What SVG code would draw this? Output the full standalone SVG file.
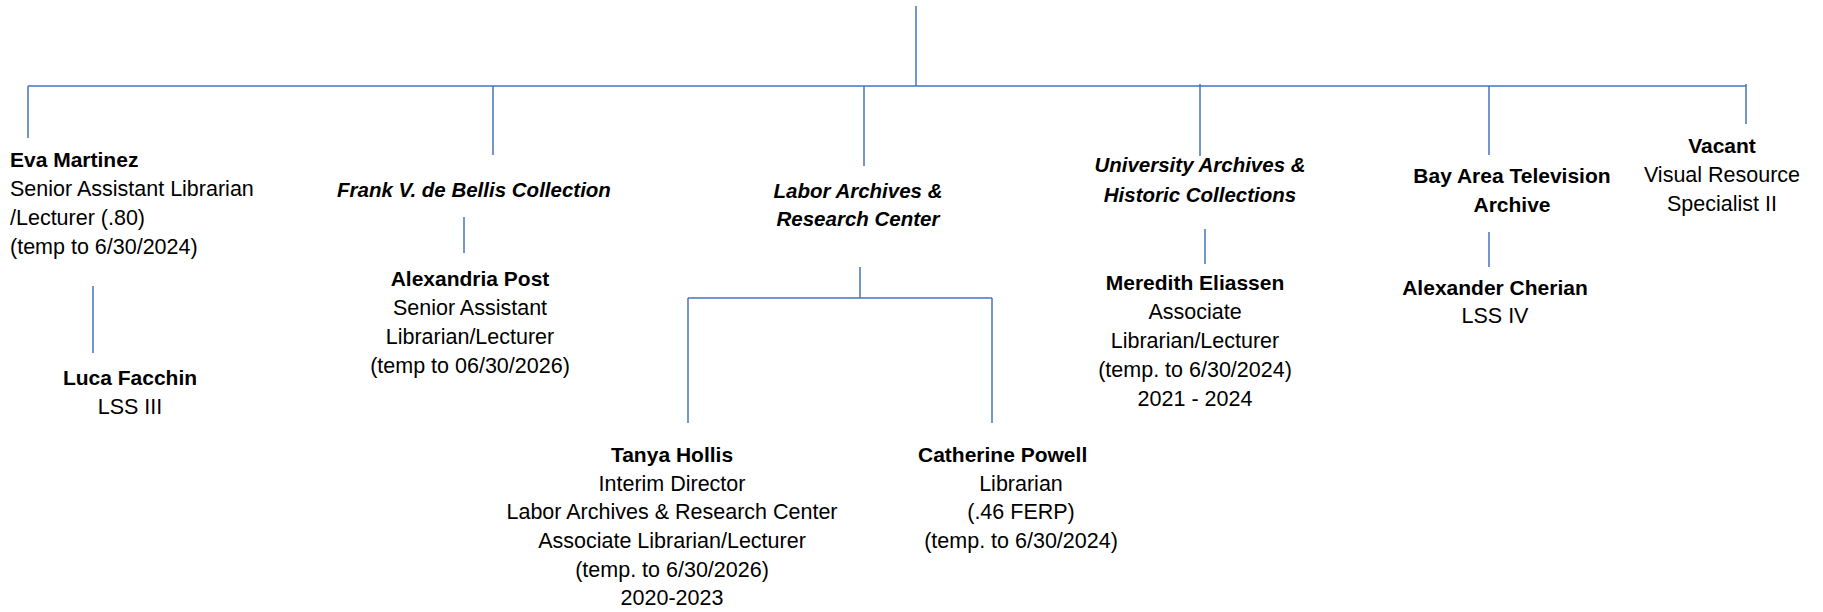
<svg xmlns="http://www.w3.org/2000/svg" width="1823" height="612" viewBox="0 0 1823 612">
<style>
.ln{stroke:#4472C4;stroke-width:1.5;fill:none}
text{font-family:"Liberation Sans",Arial,sans-serif;font-size:21.5px;fill:#000}
.b{font-weight:bold;font-size:21px}
.bi{font-weight:bold;font-style:italic;font-size:20.5px}
.c{text-anchor:middle}
</style>
<rect width="1823" height="612" fill="#fff"/>
<g id="connectors">
<line class="ln" x1="916" y1="6" x2="916" y2="86"/>
<line class="ln" x1="28" y1="86" x2="1746" y2="86"/>
<line class="ln" x1="28" y1="86" x2="28" y2="138"/>
<line class="ln" x1="493" y1="86" x2="493" y2="155"/>
<line class="ln" x1="864" y1="86" x2="864" y2="166"/>
<line class="ln" x1="1200" y1="84" x2="1200" y2="156"/>
<line class="ln" x1="1489" y1="86" x2="1489" y2="155"/>
<line class="ln" x1="1746" y1="84" x2="1746" y2="124"/>
<line class="ln" x1="93" y1="286" x2="93" y2="353"/>
<line class="ln" x1="464" y1="217" x2="464" y2="253"/>
<line class="ln" x1="860" y1="267" x2="860" y2="298"/>
<line class="ln" x1="688" y1="298" x2="992" y2="298"/>
<line class="ln" x1="688" y1="298" x2="688" y2="423"/>
<line class="ln" x1="992" y1="298" x2="992" y2="423"/>
<line class="ln" x1="1205" y1="229" x2="1205" y2="264"/>
<line class="ln" x1="1489" y1="232" x2="1489" y2="267"/>
</g>
<g id="eva">
<text class="b" x="10" y="167">Eva Martinez</text>
<text x="10" y="196">Senior Assistant Librarian</text>
<text x="10" y="225">/Lecturer (.80)</text>
<text x="10" y="254">(temp to 6/30/2024)</text>
</g>
<g id="luca">
<text class="b c" x="130" y="385">Luca Facchin</text>
<text class="c" x="130" y="414">LSS III</text>
</g>
<g id="frank">
<text class="bi c" x="474" y="197">Frank V. de Bellis Collection</text>
</g>
<g id="alexandria">
<text class="b c" x="470" y="286">Alexandria Post</text>
<text class="c" x="470" y="315">Senior Assistant</text>
<text class="c" x="470" y="344">Librarian/Lecturer</text>
<text class="c" x="470" y="373">(temp to 06/30/2026)</text>
</g>
<g id="labor">
<text class="bi c" x="858" y="198">Labor Archives &amp;</text>
<text class="bi c" x="858" y="226">Research Center</text>
</g>
<g id="tanya">
<text class="b c" x="672" y="462">Tanya Hollis</text>
<text class="c" x="672" y="491">Interim Director</text>
<text class="c" x="672" y="519">Labor Archives &amp; Research Center</text>
<text class="c" x="672" y="548">Associate Librarian/Lecturer</text>
<text class="c" x="672" y="577">(temp. to 6/30/2026)</text>
<text class="c" x="672" y="605">2020-2023</text>
</g>
<g id="catherine">
<text class="b" x="918" y="462">Catherine Powell</text>
<text class="c" x="1021" y="491">Librarian</text>
<text class="c" x="1021" y="519">(.46 FERP)</text>
<text class="c" x="1021" y="548">(temp. to 6/30/2024)</text>
</g>
<g id="university">
<text class="bi c" x="1200" y="172">University Archives &amp;</text>
<text class="bi c" x="1200" y="202">Historic Collections</text>
</g>
<g id="meredith">
<text class="b c" x="1195" y="290">Meredith Eliassen</text>
<text class="c" x="1195" y="319">Associate</text>
<text class="c" x="1195" y="348">Librarian/Lecturer</text>
<text class="c" x="1195" y="377">(temp. to 6/30/2024)</text>
<text class="c" x="1195" y="406">2021 - 2024</text>
</g>
<g id="bay">
<text class="b c" x="1512" y="183">Bay Area Television</text>
<text class="b c" x="1512" y="212">Archive</text>
</g>
<g id="alexander">
<text class="b c" x="1495" y="295">Alexander Cherian</text>
<text class="c" x="1495" y="323">LSS IV</text>
</g>
<g id="vacant">
<text class="b c" x="1722" y="153">Vacant</text>
<text class="c" x="1722" y="182">Visual Resource</text>
<text class="c" x="1722" y="211">Specialist II</text>
</g>
</svg>
